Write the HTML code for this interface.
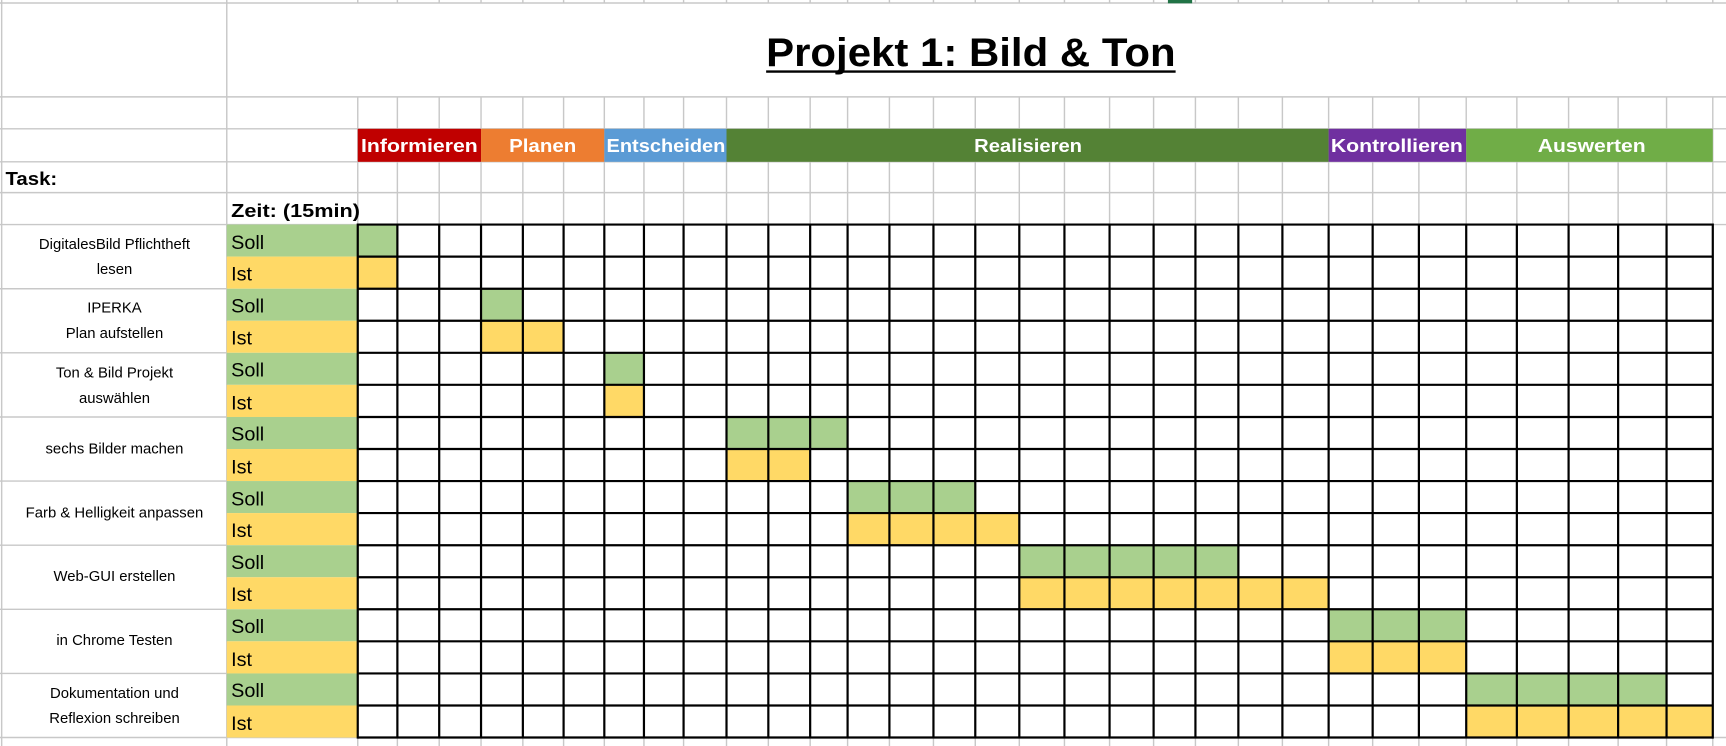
<!DOCTYPE html>
<html><head><meta charset="utf-8"><style>html,body{margin:0;padding:0;background:#fff;overflow:hidden}svg{display:block}</style></head>
<body>
<svg width="1726" height="746" viewBox="0 0 1568 677.7" preserveAspectRatio="none" xmlns="http://www.w3.org/2000/svg" font-family="'Liberation Sans', sans-serif">
<rect width="1568" height="678" fill="#fff"/>
<g stroke="#c8c8c8" stroke-width="1.3" fill="none">
<path d="M0 2.7H1568M0 88H1568M0 117H1568M0 147H1568M0 175H1568M0 204H1568M0 262.3H206M0 320.5H206M0 378.8H206M0 437H206M0 495.3H206M0 553.5H206M0 611.8H206M0 670H1568"/>
<path d="M1.5 0V678M206 0V678M325 88V678M361 88V678M399 88V678M437 88V678M475 88V678M512 88V678M549 88V678M585 88V678M621 88V678M660 88V678M698 88V678M736 88V678M770 88V678M808 88V678M848 88V678M886 88V678M926 88V678M967 88V678M1008 88V678M1048 88V678M1086 88V678M1125 88V678M1165 88V678M1207 88V678M1247 88V678M1289 88V678M1332 88V678M1378 88V678M1425 88V678M1470 88V678M1514 88V678M1556 88V678"/>
<path d="M325 0V3M361 0V3M399 0V3M437 0V3M475 0V3M512 0V3M549 0V3M585 0V3M621 0V3M660 0V3M698 0V3M736 0V3M770 0V3M808 0V3M848 0V3M886 0V3M926 0V3M967 0V3M1008 0V3M1048 0V3M1086 0V3M1125 0V3M1165 0V3M1207 0V3M1247 0V3M1289 0V3M1332 0V3M1378 0V3M1425 0V3M1470 0V3M1514 0V3M1556 0V3"/>
</g>
<rect x="1061" y="0" width="22" height="3" fill="#217346"/>
<text x="882" y="60" font-size="36" font-weight="bold" text-anchor="middle" textLength="372" lengthAdjust="spacingAndGlyphs">Projekt 1: Bild &amp; Ton</text>
<line x1="696" y1="65" x2="1068" y2="65" stroke="#000" stroke-width="2.2"/>
<g font-weight="bold" font-size="17" fill="#fff" text-anchor="middle">
<rect x="325" y="117" width="112" height="30" fill="#C00000"/><text x="381" y="138" textLength="106" lengthAdjust="spacingAndGlyphs">Informieren</text>
<rect x="437" y="117" width="112" height="30" fill="#ED7D31"/><text x="493" y="138" textLength="61" lengthAdjust="spacingAndGlyphs">Planen</text>
<rect x="549" y="117" width="111" height="30" fill="#5B9BD5"/><text x="605" y="138" textLength="108" lengthAdjust="spacingAndGlyphs">Entscheiden</text>
<rect x="660" y="117" width="547" height="30" fill="#548235"/><text x="934" y="138" textLength="98" lengthAdjust="spacingAndGlyphs">Realisieren</text>
<rect x="1207" y="117" width="125" height="30" fill="#7030A0"/><text x="1269" y="138" textLength="120" lengthAdjust="spacingAndGlyphs">Kontrollieren</text>
<rect x="1332" y="117" width="224" height="30" fill="#70AD47"/><text x="1446" y="138" textLength="98" lengthAdjust="spacingAndGlyphs">Auswerten</text>
</g>
<text x="5" y="168" font-size="17" font-weight="bold" textLength="47" lengthAdjust="spacingAndGlyphs">Task:</text>
<text x="210" y="197" font-size="17" font-weight="bold" textLength="117" lengthAdjust="spacingAndGlyphs">Zeit: (15min)</text>
<g>
<rect x="206" y="204" width="119" height="29.1" fill="#A9D08E"/><rect x="206" y="233.1" width="119" height="29.2" fill="#FFD966"/>
<rect x="206" y="262.3" width="119" height="29.1" fill="#A9D08E"/><rect x="206" y="291.4" width="119" height="29.1" fill="#FFD966"/>
<rect x="206" y="320.5" width="119" height="29.1" fill="#A9D08E"/><rect x="206" y="349.6" width="119" height="29.2" fill="#FFD966"/>
<rect x="206" y="378.8" width="119" height="29.1" fill="#A9D08E"/><rect x="206" y="407.9" width="119" height="29.1" fill="#FFD966"/>
<rect x="206" y="437" width="119" height="29.1" fill="#A9D08E"/><rect x="206" y="466.1" width="119" height="29.2" fill="#FFD966"/>
<rect x="206" y="495.3" width="119" height="29.1" fill="#A9D08E"/><rect x="206" y="524.4" width="119" height="29.1" fill="#FFD966"/>
<rect x="206" y="553.5" width="119" height="29.1" fill="#A9D08E"/><rect x="206" y="582.6" width="119" height="29.2" fill="#FFD966"/>
<rect x="206" y="611.8" width="119" height="29.1" fill="#A9D08E"/><rect x="206" y="640.9" width="119" height="29.1" fill="#FFD966"/>
</g>
<g font-size="18" fill="#000">
<text x="210" y="226">Soll</text><text x="210" y="255">Ist</text>
<text x="210" y="284">Soll</text><text x="210" y="313">Ist</text>
<text x="210" y="342">Soll</text><text x="210" y="372">Ist</text>
<text x="210" y="400">Soll</text><text x="210" y="430">Ist</text>
<text x="210" y="459">Soll</text><text x="210" y="488">Ist</text>
<text x="210" y="517">Soll</text><text x="210" y="546">Ist</text>
<text x="210" y="575">Soll</text><text x="210" y="605">Ist</text>
<text x="210" y="633">Soll</text><text x="210" y="663">Ist</text>
</g>
<g font-size="13.5" fill="#000" text-anchor="middle">
<text x="104" y="226">DigitalesBild Pflichtheft</text><text x="104" y="249">lesen</text>
<text x="104" y="284">IPERKA</text><text x="104" y="307">Plan aufstellen</text>
<text x="104" y="343">Ton &amp; Bild Projekt</text><text x="104" y="366">auswählen</text>
<text x="104" y="412">sechs Bilder machen</text>
<text x="104" y="470">Farb &amp; Helligkeit anpassen</text>
<text x="104" y="528">Web-GUI erstellen</text>
<text x="104" y="586">in Chrome Testen</text>
<text x="104" y="634">Dokumentation und</text><text x="104" y="657">Reflexion schreiben</text>
</g>
<rect x="325" y="204" width="1231" height="466" fill="#fff"/>
<g fill="#A9D08E">
<rect x="325" y="204" width="36" height="29.1"/>
<rect x="437" y="262.3" width="38" height="29.1"/>
<rect x="549" y="320.5" width="36" height="29.1"/>
<rect x="660" y="378.8" width="110" height="29.1"/>
<rect x="770" y="437" width="116" height="29.1"/>
<rect x="926" y="495.3" width="199" height="29.1"/>
<rect x="1207" y="553.5" width="125" height="29.1"/>
<rect x="1332" y="611.8" width="182" height="29.1"/>
</g>
<g fill="#FFD966">
<rect x="325" y="233.1" width="36" height="29.2"/>
<rect x="437" y="291.4" width="75" height="29.1"/>
<rect x="549" y="349.6" width="36" height="29.2"/>
<rect x="660" y="407.9" width="76" height="29.1"/>
<rect x="770" y="466.1" width="156" height="29.2"/>
<rect x="926" y="524.4" width="281" height="29.1"/>
<rect x="1207" y="582.6" width="125" height="29.2"/>
<rect x="1332" y="640.9" width="224" height="29.1"/>
</g>
<g stroke="#000" stroke-width="2" fill="none">
<path d="M325 204H1556M325 233.1H1556M325 262.3H1556M325 291.4H1556M325 320.5H1556M325 349.6H1556M325 378.8H1556M325 407.9H1556M325 437H1556M325 466.1H1556M325 495.3H1556M325 524.4H1556M325 553.5H1556M325 582.6H1556M325 611.8H1556M325 640.9H1556M325 670H1556"/>
<path d="M325 203V671M361 204V670M399 204V670M437 204V670M475 204V670M512 204V670M549 204V670M585 204V670M621 204V670M660 204V670M698 204V670M736 204V670M770 204V670M808 204V670M848 204V670M886 204V670M926 204V670M967 204V670M1008 204V670M1048 204V670M1086 204V670M1125 204V670M1165 204V670M1207 204V670M1247 204V670M1289 204V670M1332 204V670M1378 204V670M1425 204V670M1470 204V670M1514 204V670M1556 203V671"/>
</g>
</svg>
</body></html>
